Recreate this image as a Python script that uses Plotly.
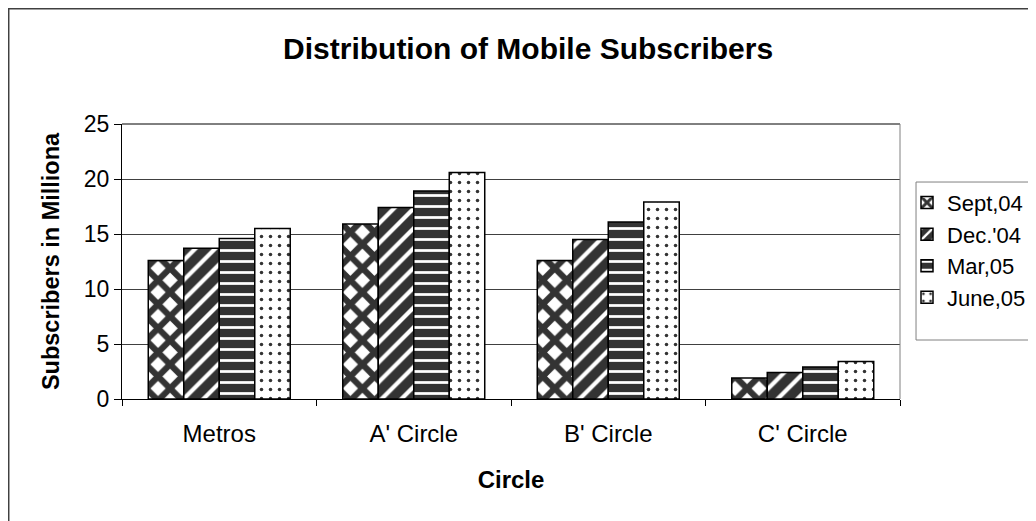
import plotly.graph_objects as go

circles = ["Metros", "A' Circle", "B' Circle", "C' Circle"]
periods = ["Sept,04", "Dec.'04", "Mar,05", "June,05"]
sept_04 = [12.6, 15.9, 12.6, 1.9]
dec_04 = [13.7, 17.4, 14.5, 2.4]
mar_05 = [14.6, 18.9, 16.1, 2.9]
june_05 = [15.5, 20.6, 17.9, 3.4]

DARK = "#333333"
FONT = "Liberation Sans, Arial, sans-serif"

# fill patterns imitating the old Excel hatching
patterns = [
    dict(shape="x", fgcolor=DARK, bgcolor="white", size=17, solidity=0.6),
    dict(shape="/", fgcolor="white", bgcolor=DARK, size=14, solidity=0.3),
    dict(shape="-", fgcolor="white", bgcolor=DARK, size=11, solidity=0.25),
    dict(shape=".", fgcolor=DARK, bgcolor="white", size=9, solidity=0.12),
]

fig = go.Figure()
for name, values, pat in zip(periods, [sept_04, dec_04, mar_05, june_05], patterns):
    fig.add_trace(
        go.Bar(
            x=circles,
            y=values,
            name=name,
            marker=dict(
                color=pat["bgcolor"],
                pattern=dict(fillmode="replace", **pat),
                line=dict(color="black", width=1.5),
            ),
        )
    )

# the page body adds an 8px offset, margins below account for it
fig.update_layout(
    width=1036,
    height=521,
    barmode="group",
    bargap=0.27,
    bargroupgap=0,
    paper_bgcolor="white",
    plot_bgcolor="white",
    font=dict(family=FONT, size=23, color="black"),
    margin=dict(l=114, r=144, t=116, b=130, autoexpand=False),
    title=dict(
        text="<b>Distribution of Mobile Subscribers</b>",
        x=0.502,
        xanchor="center",
        y=0.923,
        yanchor="middle",
        font=dict(size=30, family=FONT, color="black"),
    ),
    xaxis=dict(
        title=dict(text="<b>Circle</b>", font=dict(size=24), standoff=25),
        tickfont=dict(size=24),
        ticklabelstandoff=13,
        showline=True,
        linecolor="black",
        linewidth=1,
        ticks="outside",
        ticklen=6,
        tickcolor="black",
        tickson="boundaries",
        showgrid=False,
    ),
    yaxis=dict(
        title=dict(text="<b>Subscribers in Milliona</b>", font=dict(size=23.5), standoff=17),
        tickfont=dict(size=23),
        range=[0, 25],
        dtick=5,
        showline=True,
        linecolor="black",
        linewidth=1,
        ticks="outside",
        ticklen=7,
        tickcolor="black",
        showgrid=True,
        gridcolor="#404040",
        gridwidth=1,
        zeroline=False,
    ),
    # legend frame is drawn as a shape so the labels can sit closer to it
    legend=dict(
        x=1.009,
        y=0.79,
        xanchor="left",
        yanchor="top",
        borderwidth=0,
        bgcolor="rgba(0,0,0,0)",
        font=dict(size=22),
        itemwidth=30,
        tracegroupgap=0,
    ),
    shapes=[
        # plot area frame (top and right)
        dict(type="line", xref="paper", yref="paper", x0=0, x1=1, y0=1, y1=1,
             line=dict(color="black", width=1)),
        dict(type="line", xref="paper", yref="paper", x0=1, x1=1, y0=0, y1=1,
             line=dict(color="#808080", width=1)),
        # legend box, running off the right edge
        dict(type="rect", xref="paper", yref="paper", x0=1.0206, x1=1.3, y0=0.2145, y1=0.789,
             line=dict(color="#808080", width=1), fillcolor="white", layer="below"),
        # outer chart border, cropped on the right and bottom
        dict(type="rect", xref="paper", yref="paper", x0=-0.1456, x1=1.3, y0=-0.6, y1=1.4191,
             line=dict(color="#404040", width=1.5), layer="below"),
    ],
)

fig.write_html("out.html")
